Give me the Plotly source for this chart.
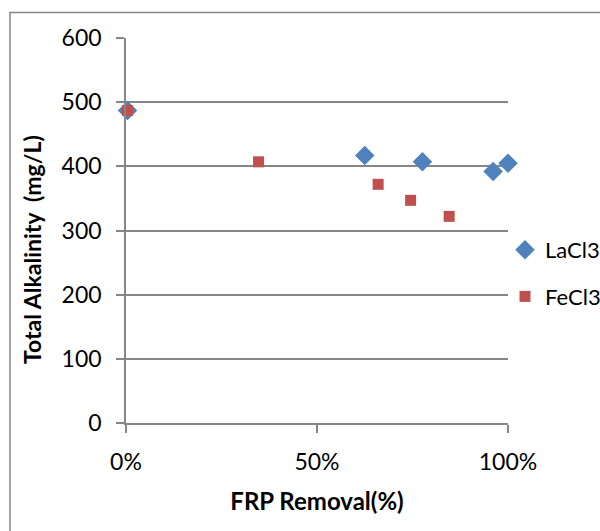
import plotly.graph_objects as go

# Data
la_x = [0.004, 0.625, 0.776, 0.961, 1.0]
la_y = [487, 417, 407, 392, 405]
fe_x = [0.004, 0.347, 0.660, 0.745, 0.846]
fe_y = [487, 407, 372, 347, 322]

series_names = ["LaCl3", "FeCl3"]
x_ticks = [0, 0.5, 1.0]
x_tick_labels = ["0%", "50%", "100%"]
y_ticks = [0, 100, 200, 300, 400, 500, 600]

FONT = "Lato, 'Open Sans', sans-serif"
GRID = "#868686"

W, H = 600, 531
L, R, T, B = 126, 92, 37.5, 107.5
pw, ph = W - L - R, H - T - B

def px_x(p):
    return (p - L) / pw

def px_y(p):
    return (H - B - p) / ph

fig = go.Figure()
fig.add_trace(go.Scatter(
    x=la_x, y=la_y, mode="markers", name=series_names[0], legendgroup="a",
    marker=dict(symbol="diamond", size=15, color="#4F81BD"),
    cliponaxis=False,
))
fig.add_trace(go.Scatter(
    x=fe_x, y=fe_y, mode="markers", name=series_names[1], legendgroup="b",
    marker=dict(symbol="square", size=11, color="#C0504D"),
    cliponaxis=False,
))

fig.update_layout(
    width=W, height=H,
    margin=dict(l=L, r=R, t=T, b=B, autoexpand=False),
    paper_bgcolor="white", plot_bgcolor="white",
    font=dict(family=FONT, size=22, color="#000000"),
    showlegend=True,
    legend=dict(
        x=px_x(505), y=px_y(229), xanchor="left", yanchor="top",
        font=dict(family=FONT, size=22, color="#000000"),
        traceorder="grouped", tracegroupgap=15,
        bgcolor="rgba(0,0,0,0)", itemwidth=30,
    ),
    xaxis=dict(
        range=[0, 1.0], tickvals=x_ticks, ticktext=x_tick_labels,
        showgrid=False, zeroline=False,
        showline=True, linecolor=GRID, linewidth=1.5,
        ticks="outside", ticklen=8, tickcolor=GRID, tickwidth=1.5,
        tickfont=dict(family=FONT, size=23),
        ticklabelstandoff=10,
        automargin=False,
        title=dict(text="<b>FRP Removal(%)</b>", font=dict(family=FONT, size=24), standoff=19),
    ),
    yaxis=dict(
        range=[0, 600], tickvals=y_ticks,
        showgrid=True, gridcolor=GRID, gridwidth=1.5,
        zeroline=False,
        showline=True, linecolor=GRID, linewidth=1.5,
        ticks="outside", ticklen=8, tickcolor=GRID, tickwidth=1.5,
        tickfont=dict(family=FONT, size=23),
        ticklabelstandoff=10,
        automargin=False,
    ),
    annotations=[dict(
        text="<b>Total Alkalinity  (mg/L)</b>", textangle=-90,
        xref="paper", yref="paper", x=px_x(32), y=px_y(250),
        xanchor="center", yanchor="middle", showarrow=False,
        font=dict(family=FONT, size=23, color="#000000"),
    )],
    shapes=[dict(
        type="rect", xref="paper", yref="paper",
        x0=px_x(10), y0=px_y(700), x1=px_x(800), y1=px_y(12),
        line=dict(color=GRID, width=1.5), fillcolor="rgba(0,0,0,0)", layer="below",
    )],
)

fig.write_html("out.html")
